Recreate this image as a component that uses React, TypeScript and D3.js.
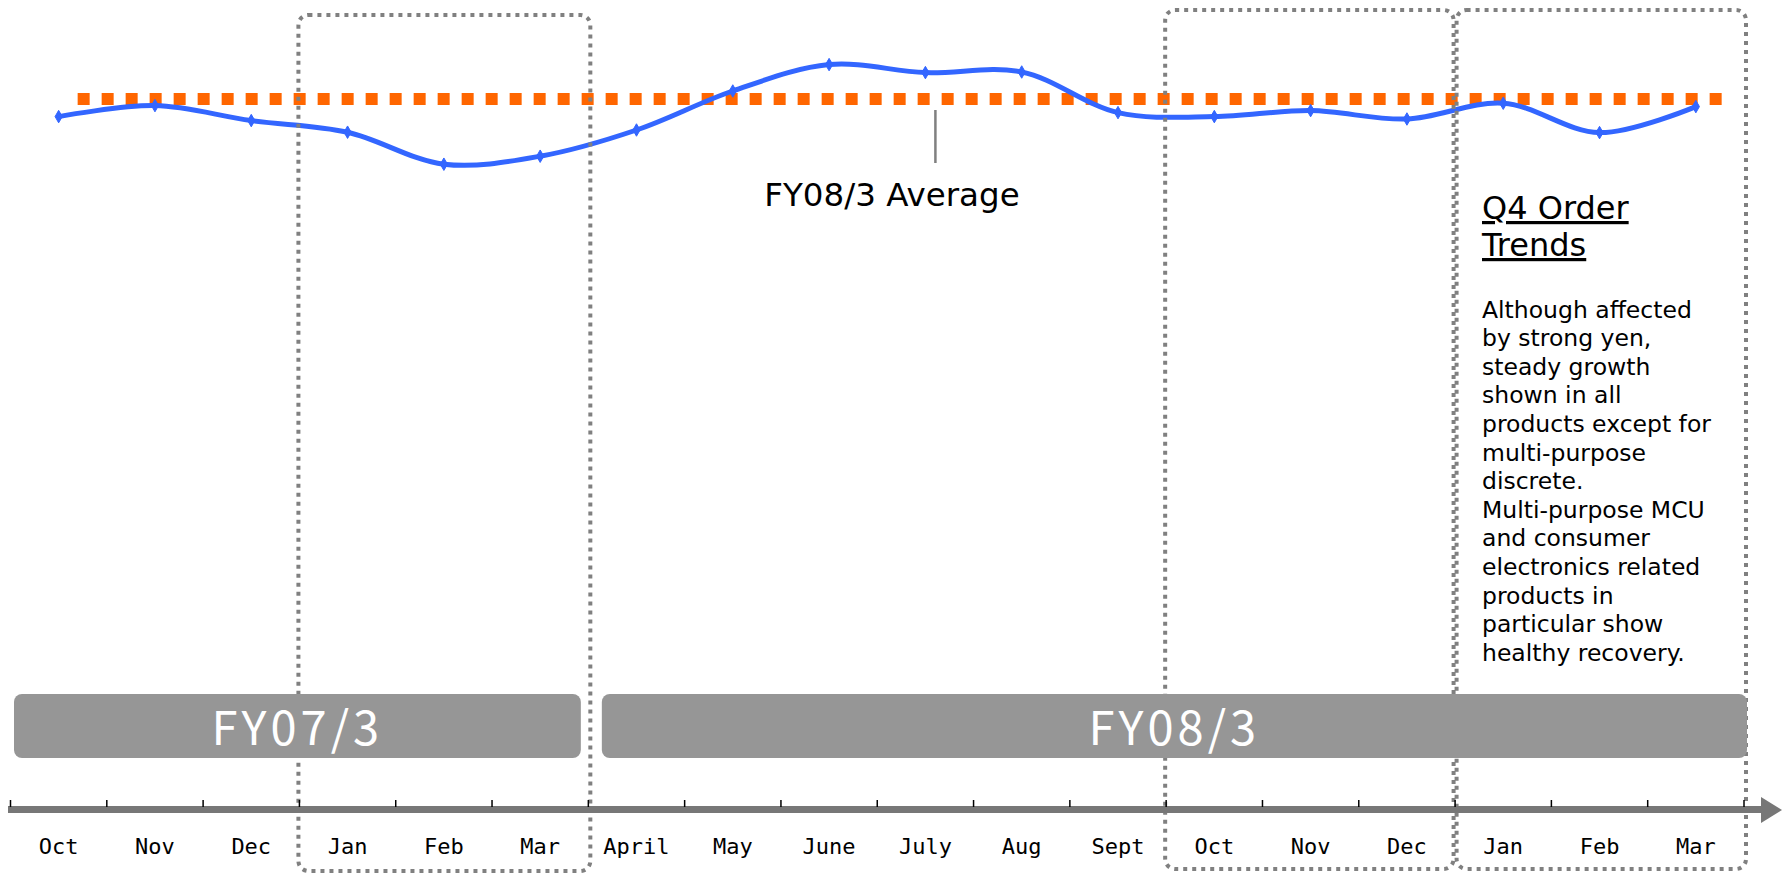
import React from "react";
import * as d3 from "d3";

const W = 1782;
const H = 876;

// ---- data ----
const months = ["Oct", "Nov", "Dec", "Jan", "Feb", "Mar", "April", "May", "June", "July", "Aug", "Sept", "Oct", "Nov", "Dec", "Jan", "Feb", "Mar"];
const orders = [91.2, 96.7, 89.2, 83.4, 67.4, 71.4, 84.5, 104, 117.2, 113.2, 113.5, 93.2, 91.2, 94.2, 90, 97.9, 83.2, 96.2];
const fy08Average = 100;
const fiscalYears = [
  { label: "FY07/3", start: 0, end: 5 },
  { label: "FY08/3", start: 6, end: 17 },
];
// highlighted quarters (first and last month index)
const quarters = [
  { start: 3, end: 5 },
  { start: 12, end: 14 },
  { start: 15, end: 17 },
];
const noteTitle = ["Q4 Order", "Trends"];
const noteBody = [
  "Although affected",
  "by strong yen,",
  "steady growth",
  "shown in all",
  "products except for",
  "multi-purpose",
  "discrete.",
  "Multi-purpose MCU",
  "and consumer",
  "electronics related",
  "products in",
  "particular show",
  "healthy recovery.",
];
const avgLabel = "FY08/3 Average";

export default function App() {
  const idx = months.map((_, i) => i);
  const x = d3.scaleBand<number>().domain(idx).range([10.5, 1744]).paddingInner(0).paddingOuter(0);
  const bw = x.bandwidth();
  const cx = (i: number) => (x(i) as number) + bw / 2;
  const y = d3.scaleLinear().domain([100, 50]).range([99, 199]);

  const line = d3
    .line<number>()
    .x((_, i) => cx(i))
    .y((d) => y(d))
    .curve(d3.curveCatmullRom.alpha(0.5));

  const diamond = d3.symbol().type(d3.symbolDiamond).size(45)();

  const tickPositions = d3.range(months.length + 1).map((i) => 10.5 + i * bw);

  const avgX0 = cx(0) + 19;
  const avgX1 = cx(17) + 26;

  const boxFor = (q: { start: number; end: number }, k: number) => {
    const x0 = x(q.start) as number;
    const x1 = (x(q.end) as number) + bw;
    const top = k === 0 ? 15 : 10;
    const bottom = k === 0 ? 871 : 869;
    const insetL = k === 2 ? 1.5 : -1;
    const insetR = k === 1 ? -1.5 : 2;
    return { x: x0 + insetL, y: top, w: x1 - x0 - insetL + insetR, h: bottom - top };
  };

  const calloutX = cx(9) + 10;

  return (
    <svg
      width={W}
      height={H}
      style={{ position: "absolute", left: 0, top: 0, display: "block", background: "#fff" }}
    >
      {/* average dotted line */}
      <line
        x1={avgX0}
        x2={avgX1}
        y1={y(fy08Average)}
        y2={y(fy08Average)}
        stroke="#ff6600"
        strokeWidth={12}
        strokeDasharray="12 12"
      />
      {/* orders line */}
      <path d={line(orders) || ""} fill="none" stroke="#3366ff" strokeWidth={5} strokeLinejoin="round" strokeLinecap="round" />
      {orders.map((d, i) => (
        <path key={i} d={diamond || ""} transform={`translate(${cx(i)},${y(d)})`} fill="#3366ff" stroke="#3366ff" strokeWidth={1} />
      ))}

      {/* callout */}
      <line x1={calloutX} x2={calloutX} y1={110} y2={163} stroke="#808080" strokeWidth={2.5} />
      <text x={892} y={206} textAnchor="middle" fontFamily="DejaVu Sans" fontSize={32.5} fill="#000">
        {avgLabel}
      </text>

      {/* quarter boxes */}
      {quarters.map((q, k) => {
        const b = boxFor(q, k);
        return (
          <rect
            key={k}
            x={b.x}
            y={b.y}
            width={b.w}
            height={b.h}
            rx={10}
            ry={10}
            fill="none"
            stroke="#808080"
            strokeWidth={4}
            strokeDasharray="4 5"
          />
        );
      })}

      {/* fiscal year bars */}
      {fiscalYears.map((f, k) => {
        const x0 = (x(f.start) as number) + (k === 0 ? 3.5 : 13.5);
        const x1 = (x(f.end) as number) + bw + (k === 0 ? -7.5 : 3);
        return (
          <g key={f.label}>
            <rect x={x0} y={694} width={x1 - x0} height={64} rx={8} ry={8} fill="#969696" />
            <text
              x={(x0 + x1) / 2}
              y={745}
              textAnchor="middle"
              fontFamily="'Noto Sans CJK JP'"
              fontSize={47}
              letterSpacing={4}
              fill="#ffffff"
            >
              {f.label}
            </text>
          </g>
        );
      })}

      {/* time axis */}
      <rect x={8} y={806} width={1755} height={7} fill="#777777" />
      <polygon points="1761,797 1782,810 1761,823" fill="#777777" />
      {tickPositions.map((t, i) => (
        <line key={i} x1={t} x2={t} y1={800} y2={807} stroke="#000" strokeWidth={1.5} />
      ))}
      {months.map((m, i) => (
        <text
          key={i}
          x={cx(i)}
          y={854}
          textAnchor="middle"
          fontFamily="'DejaVu Sans Mono'"
          fontSize={22}
          fill="#000"
        >
          {m}
        </text>
      ))}

      {/* note */}
      {noteTitle.map((t, i) => (
        <text
          key={t}
          x={1482}
          y={219 + i * 37}
          fontFamily="DejaVu Sans"
          fontSize={32}
          textDecoration="underline"
          fill="#000"
        >
          {t}
        </text>
      ))}
      {noteBody.map((t, i) => (
        <text key={i} x={1482} y={317.7 + i * 28.58} fontFamily="DejaVu Sans" fontSize={23.5} fill="#000">
          {t}
        </text>
      ))}
    </svg>
  );
}
